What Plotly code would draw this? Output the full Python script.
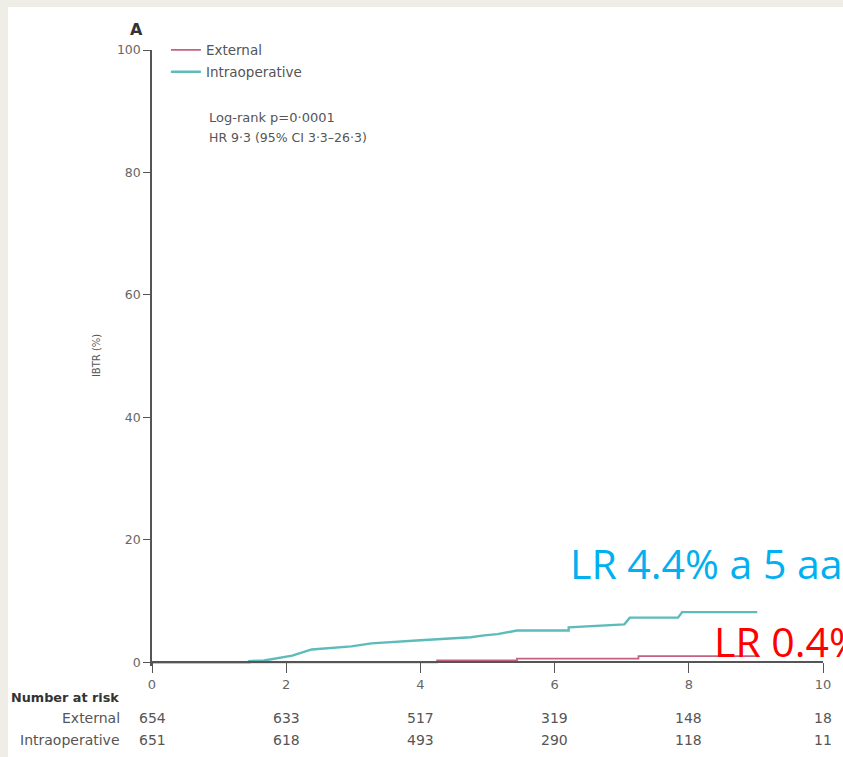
import plotly.graph_objects as go

# ---- data ----
ext_t = [0, 4.25, 4.25, 5.44, 5.44, 7.25, 7.25, 9.0]
ext_y = [0, 0, 0.3, 0.3, 0.6, 0.6, 1.0, 1.0]

intra_t = [0, 1.45, 1.45, 1.67, 2.09, 2.38, 2.97, 3.27, 4.0, 4.75, 4.95, 5.15, 5.44,
           6.21, 6.21, 7.04, 7.12, 7.84, 7.9, 9.02]
intra_y = [0, 0, 0.2, 0.3, 1.1, 2.1, 2.6, 3.1, 3.6, 4.1, 4.4, 4.6, 5.2,
           5.2, 5.7, 6.2, 7.3, 7.3, 8.2, 8.2]

risk_times = [0, 2, 4, 6, 8, 10]
risk_external = [654, 633, 517, 319, 148, 18]
risk_intra = [651, 618, 493, 290, 118, 11]

x_ticks = [0, 2, 4, 6, 8, 10]
y_ticks = [0, 20, 40, 60, 80, 100]

RED = "#C2637F"
TEAL = "#5DBBBB"
GRAY = "#555555"
FONT = "DejaVu Sans"

# pixel geometry helpers (paper coords)
L, R, T, B = 152, 828, 50, 665.7
W, H = 843, 757
def px(x):
    return (x - L) / (R - L)
def py(y):
    return (B - y) / (B - T)

fig = go.Figure()
fig.add_trace(go.Scatter(x=ext_t, y=ext_y, mode="lines", name="External",
                         line=dict(color=RED, width=1.8), legend="legend"))
fig.add_trace(go.Scatter(x=intra_t, y=intra_y, mode="lines", name="Intraoperative",
                         line=dict(color=TEAL, width=2.4), legend="legend2"))

ymin = -0.6
fig.update_layout(
    width=W, height=H,
    margin=dict(l=L, r=W - R, t=T, b=H - B),
    paper_bgcolor="#EEEEE6",
    plot_bgcolor="rgba(0,0,0,0)",
    font=dict(family=FONT, size=13, color=GRAY),
    xaxis=dict(range=[0, 10], tickvals=x_ticks, ticks="outside", ticklen=10,
               tickcolor="#555", showline=True, linecolor="#555", linewidth=1.5,
               showgrid=False, zeroline=False, anchor="free",
               position=(0 - ymin) / (100 - ymin),
               tickfont=dict(size=13, color="#666")),
    yaxis=dict(range=[ymin, 100], tickvals=y_ticks, ticks="outside", ticklen=7,
               tickcolor="#555", showline=True, linecolor="#555", linewidth=1.5,
               showgrid=False, zeroline=False,
               tickfont=dict(size=12.5, color="#666")),
    legend=dict(x=px(166), y=py(50), xanchor="left", yanchor="middle",
                bgcolor="rgba(0,0,0,0)", font=dict(size=13.5, color=GRAY, family=FONT)),
    legend2=dict(x=px(166), y=py(72), xanchor="left", yanchor="middle",
                 bgcolor="rgba(0,0,0,0)", font=dict(size=13.5, color=GRAY, family=FONT)),
    showlegend=True,
)

# white panel
fig.add_shape(type="rect", xref="paper", yref="paper", x0=px(7), x1=px(900),
              y0=py(800), y1=py(7), fillcolor="white", line=dict(width=0), layer="below")

ann = []
ann.append(dict(text="<b>A</b>", x=px(128), y=py(30), font=dict(size=16, color="#333")))
ann.append(dict(text="Log-rank p=0·0001", x=px(207), y=py(117), xanchor="left",
                font=dict(size=13, color=GRAY)))
ann.append(dict(text="HR 9·3 (95% CI 3·3–26·3)", x=px(207), y=py(137), xanchor="left",
                font=dict(size=12.5, color=GRAY)))
ann.append(dict(text="IBTR (%)", x=px(88), y=py(355), textangle=-90,
                font=dict(size=10, color=GRAY)))
ann.append(dict(text="<b>Number at risk</b>", x=px(8), y=py(697), xanchor="left",
                font=dict(size=12.8, color="#333")))
ann.append(dict(text="External", x=px(122), y=py(718), xanchor="right",
                font=dict(size=14, color=GRAY)))
ann.append(dict(text="Intraoperative", x=px(122), y=py(740), xanchor="right",
                font=dict(size=14, color=GRAY)))
for t, a, b in zip(risk_times, risk_external, risk_intra):
    ann.append(dict(text=str(a), x=t, xref="x", y=py(718), font=dict(size=14, color=GRAY)))
    ann.append(dict(text=str(b), x=t, xref="x", y=py(740), font=dict(size=14, color=GRAY)))

ann.append(dict(text="LR 4.4% a 5 aa", x=px(571), y=py(563), xanchor="left",
                font=dict(size=41, color="#00B0F0", family="Open Sans")))
ann.append(dict(text="LR 0.4%", x=px(716), y=py(641), xanchor="left",
                font=dict(size=41, color="#FF0000", family="Open Sans")))

for a in ann:
    a.setdefault("xref", "paper")
    a.setdefault("yref", "paper")
    a.setdefault("yanchor", "middle")
    a.setdefault("showarrow", False)
    fig.add_annotation(**a)

fig.write_html("out.html")
